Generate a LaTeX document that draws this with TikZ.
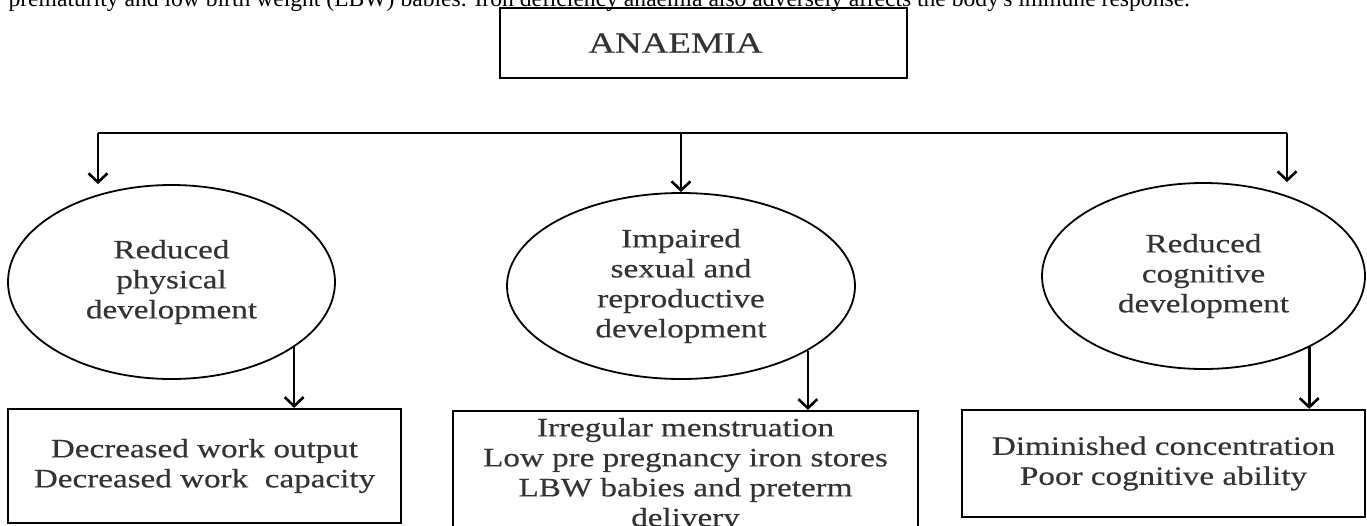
\documentclass[tikz,border=0pt]{standalone}
\usepackage{fontspec}
\setmainfont{Liberation Serif}[FakeStretch=1.25, FakeBold=0.4]
\newfontfamily\bodyfont{Liberation Serif}
\usetikzlibrary{shapes.geometric,arrows.meta}

\begin{document}
\begin{tikzpicture}[x=1pt, y=-1pt]
	\tikzset{arrow lines/.style={line width=2.6pt, black, -{Straight Barb[length=9pt, width=19pt]}}}
	\tikzset{box/.style={draw, line width=2.2pt, rectangle, align=center, text=black!80,
			font=\fontsize{26.5}{30}\selectfont}}
	\tikzset{oval/.style={draw, line width=1.8pt, ellipse, align=center, text=black!80,
			font=\fontsize{26.5}{30}\selectfont}}
	\useasboundingbox (0, 0) rectangle (1367, 525);
	\clip (0, 0) rectangle (1367, 525);
	% \draw (0, 0) grid (1367, 525);

	\node[anchor=base west, font=\bodyfont\fontsize{23.6}{26}\selectfont] (prev) at (5, 6)
	{prematurity and low birth weight (LBW) babies. Iron deficiency anaemia also adversely affects the body's immune response.};

	\node[box, minimum width=407pt, minimum height=70pt, font=\fontsize{29.5}{32}\selectfont]
	(anaemia) at (703.5, 43) {\hspace*{-56pt}ANAEMIA};

	\node[oval, minimum width=327pt, minimum height=194pt] (phys) at (171.5, 282)
	{Reduced\\physical\\development};
	\node[oval, minimum width=348pt, minimum height=186pt] (repro) at (681, 286)
	{Impaired\\sexual and\\reproductive\\development};
	\node[oval, minimum width=323pt, minimum height=186pt] (cog) at (1203.5, 276)
	{Reduced\\cognitive\\development};

	\node[box, minimum width=393pt, minimum height=114pt] (work) at (204.5, 466)
	{Decreased work output\\Decreased work\ \ capacity};
	\node[box, minimum width=465pt, minimum height=128pt] (mens) at (685.5, 475)
	{Irregular menstruation\\Low pre pregnancy iron stores\\LBW babies and preterm\\delivery};
	\node[box, minimum width=403pt, minimum height=107pt] (conc) at (1163.5, 463.5)
	{Diminished concentration\\Poor cognitive ability};

	\coordinate (busl) at (98, 133);
	\coordinate (busr) at (1287, 133);
	\draw[line width=2.6pt] (busl) -- (busr);
	\draw[arrow lines] (busl) -- (busl |- phys.north);
	\draw[arrow lines] (repro.north |- busl) -- (repro.north);
	\draw[arrow lines] (busr) -- (busr |- cog.north);

	\draw[arrow lines] (phys.-28) -- (phys.-28 |- work.north);
	\draw[arrow lines] (repro.-27) -- (repro.-27 |- mens.north);
	\draw[arrow lines] (cog.-34) -- (cog.-34 |- conc.north);
\end{tikzpicture}
\end{document}
